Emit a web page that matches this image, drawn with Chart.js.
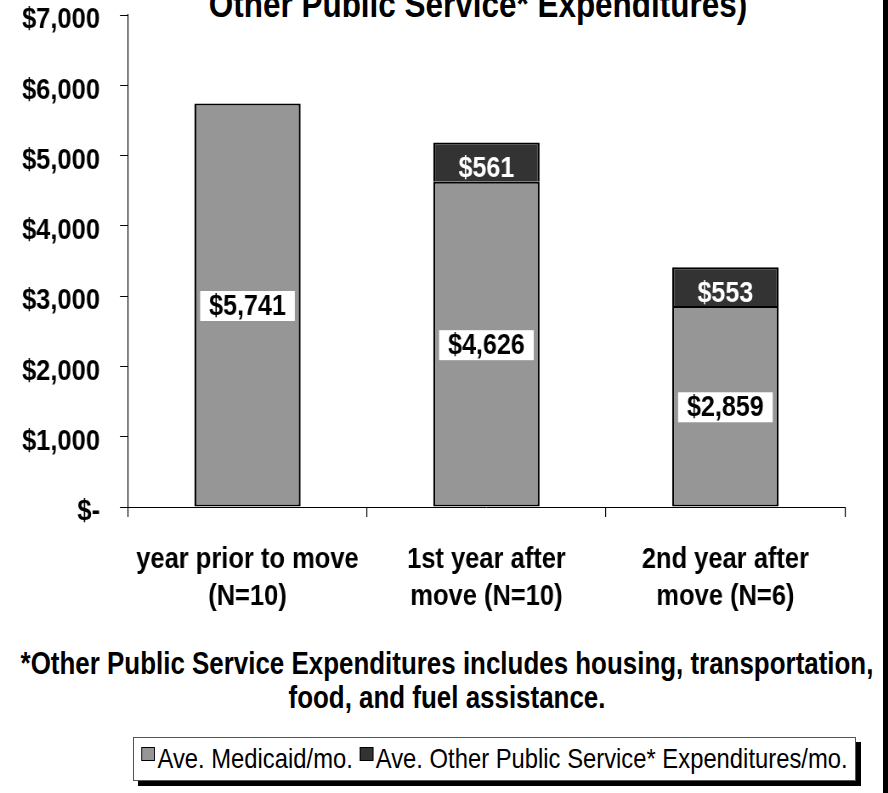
<!DOCTYPE html>
<html>
<head>
<meta charset="utf-8">
<script src="https://cdn.jsdelivr.net/npm/chart.js@4"></script>
<style>
  html, body { margin: 0; padding: 0; background: #fff; }
  body { font-family: "Liberation Sans", Arial, sans-serif; color: #000; }
  #frame { position: relative; width: 888px; height: 793px; overflow: hidden; background: #fff; }
  #edge { position: absolute; left: 883px; top: 0; width: 5px; height: 793px; background: #000; }
  /* the text is squeezed sideways to get the tall, narrow Arial look */
  .narrow { transform: scaleX(0.85); transform-origin: 50% 50%; }
  #title { position: absolute; left: -100px; width: 1156px; top: -14px; text-align: center;
           font-weight: bold; font-size: 37px; line-height: 37px; white-space: nowrap; }
  #chart { position: absolute; left: 0; top: 0; }
  #note { position: absolute; left: -153px; width: 1200px; top: 646px; text-align: center;
          font-weight: bold; font-size: 30.5px; line-height: 34px; white-space: nowrap; }
  #legend { position: absolute; left: 133px; top: 737px; width: 723px; height: 44px; box-sizing: border-box;
            border: 1px solid #555; box-shadow: 5px 5px 0 #000; background: #fff;
            display: flex; align-items: center; justify-content: center; white-space: nowrap; }
  #legend .items { display: flex; align-items: center; font-size: 28px; }
  #legend .item { display: flex; align-items: center; margin: 0 4px; }
  #legend .swatch { width: 14px; height: 12px; border: 1px solid #000; margin-right: 3px; position: relative; top: -5px; }
</style>
</head>
<body>
<div id="frame">
  <div id="title" class="narrow">Other Public Service* Expenditures)</div>
  <canvas id="chart" width="1039" height="640" style="width:883px;height:640px"></canvas>
  <div id="note" class="narrow">*Other Public Service Expenditures includes housing, transportation,<br>food, and fuel assistance.</div>
  <div id="legend"><div class="items narrow"></div></div>
  <div id="edge"></div>
</div>
<script>
const categories = [
    ['year prior to move', '(N=10)'],
    ['1st year after', 'move (N=10)'],
    ['2nd year after', 'move (N=6)']
];
const medicaidValues = [5741, 4626, 2859];
const otherValues = [null, 561, 553];
const seriesNames = ['Ave. Medicaid/mo.', 'Ave. Other Public Service* Expenditures/mo.'];
const seriesColors = ['#969696', '#333333'];
const yTicks = [0, 1000, 2000, 3000, 4000, 5000, 6000, 7000];

const FONT = '"Liberation Sans", Arial, sans-serif';
// the canvas is drawn wider and shown at 883px, so x lengths are in squeezed units
const SQ = 0.85;

function money(v) {
    return v === 0 ? '$-' : '$' + v.toLocaleString('en-US');
}

// value boxes: white tag on the Medicaid part, plain white text on the dark part
const barLabels = {
    id: 'barLabels',
    afterDatasetsDraw(chart) {
        const ctx = chart.ctx;
        ctx.save();
        ctx.font = `bold 29.5px ${FONT}`;
        ctx.textAlign = 'center';
        ctx.textBaseline = 'middle';
        chart.data.datasets.forEach((ds, i) => {
            chart.getDatasetMeta(i).data.forEach((bar, j) => {
                const value = ds.data[j];
                if (value == null) return;
                const text = money(value);
                const cy = (bar.y + bar.base) / 2;
                if (i === 0) {
                    const w = ctx.measureText(text).width + 18 / SQ;
                    ctx.fillStyle = '#fff';
                    ctx.fillRect(bar.x - w / 2, cy - 14, w, 30);
                    ctx.fillStyle = '#000';
                    ctx.fillText(text, bar.x, cy + 2);
                } else {
                    ctx.fillStyle = '#fff';
                    ctx.fillText(text, bar.x, cy + 7);
                }
            });
        });
        ctx.restore();
    }
};

const barBorder = { top: 2, bottom: 2, left: 2 / SQ, right: 2 / SQ };

const chart = new Chart(document.getElementById('chart'), {
    type: 'bar',
    data: {
        labels: categories,
        datasets: [{
            label: seriesNames[0],
            data: medicaidValues,
            backgroundColor: seriesColors[0],
            borderColor: '#000',
            borderWidth: barBorder,
            borderSkipped: false
        }, {
            label: seriesNames[1],
            data: otherValues,
            backgroundColor: seriesColors[1],
            borderColor: '#000',
            borderWidth: barBorder,
            borderSkipped: 'bottom'
        }]
    },
    options: {
        responsive: false,
        animation: false,
        devicePixelRatio: 1,
        barPercentage: 0.445,
        categoryPercentage: 1,
        layout: {
            padding: { left: 0, right: 1039 - 845 / SQ, top: 15, bottom: 0 }
        },
        plugins: {
            legend: { display: false },
            title: { display: false },
            tooltip: { enabled: false }
        },
        scales: {
            x: {
                stacked: true,
                afterFit(scale) {
                    scale.height = 133;
                    scale.paddingLeft = 0;
                    scale.paddingRight = 0;
                },
                grid: {
                    offset: true,
                    drawOnChartArea: false,
                    color: '#000',
                    lineWidth: 1 / SQ,
                    tickLength: 10
                },
                border: { color: '#000', width: 1 },
                ticks: {
                    color: '#000',
                    font: { family: FONT, size: 30, weight: 'bold', lineHeight: 1.233 },
                    padding: 24,
                    maxRotation: 0,
                    autoSkip: false
                }
            },
            y: {
                stacked: true,
                min: 0,
                max: 7000,
                afterFit(scale) {
                    scale.width = 128 / SQ;
                    scale.paddingTop = 0;
                    scale.paddingBottom = 0;
                },
                afterBuildTicks(scale) {
                    scale.ticks = yTicks.map(v => ({ value: v }));
                },
                grid: {
                    drawOnChartArea: false,
                    color: '#000',
                    tickLength: 8 / SQ
                },
                border: { color: '#000', width: 1 / SQ },
                ticks: {
                    color: '#000',
                    font: { family: FONT, size: 30, weight: 'bold', lineHeight: 1 },
                    padding: 20 / SQ,
                    labelOffset: 5,
                    callback: v => money(v)
                }
            }
        }
    },
    plugins: [barLabels]
});

// legend built from the chart's own datasets
const legendItems = document.querySelector('#legend .items');
chart.data.datasets.forEach(ds => {
    const item = document.createElement('div');
    item.className = 'item';
    const swatch = document.createElement('span');
    swatch.className = 'swatch';
    swatch.style.background = ds.backgroundColor;
    const label = document.createElement('span');
    label.textContent = ds.label;
    item.appendChild(swatch);
    item.appendChild(label);
    legendItems.appendChild(item);
});
</script>
</body>
</html>
